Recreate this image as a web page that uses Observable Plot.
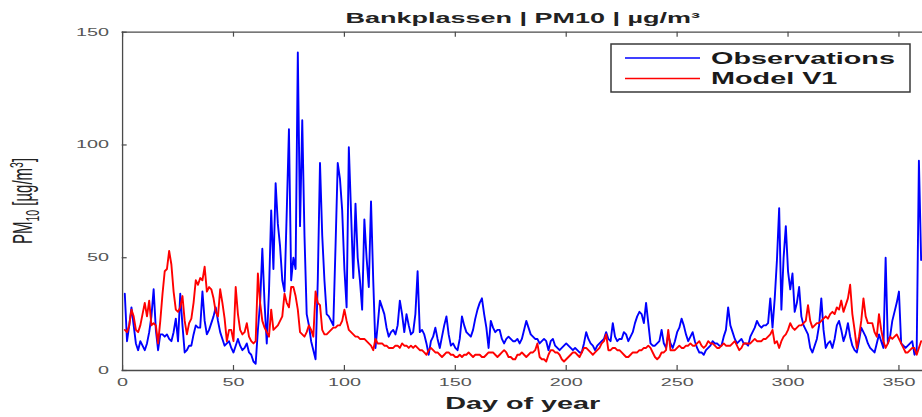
<!DOCTYPE html>
<html>
<head>
<meta charset="utf-8">
<script src="https://cdn.jsdelivr.net/npm/d3@7"></script>
<script src="https://cdn.jsdelivr.net/npm/@observablehq/plot@0.6"></script>
<style>
  html, body { margin: 0; padding: 0; background: #fff; overflow: hidden; }
  #chart svg { display: block; }
</style>
</head>
<body>
<div id="chart"></div>
<script>
// Daily PM10 at Bankplassen: measured vs. model run V1
const title = "Bankplassen | PM10 | µg/m³";
const xLabel = "Day of year";
const seriesNames = ["Observations", "Model V1"];
const seriesColors = ["#0000ff", "#ff0000"];
const xTicks = [0, 50, 100, 150, 200, 250, 300, 350];
const yTicks = [0, 50, 100, 150];
const firstDay = 1;

const observations = [
  34,13,20,28,20,12,9,13,11,9,
  12,17,24,36,18,9,16,16,15,16,
  14,13,17,23,13,34,20,8,9,11,
  11,16,20,19,19,35,22,16,18,21,
  24,28,22,17,14,11,12,13,10,8,
  11,14,11,9,10,12,8,7,4,3,
  18,30,54,30,12,35,71,45,83,65,
  55,40,35,70,107,40,50,45,141,64,
  111,60,25,20,13,9,5,40,92,60,
  40,25,24,22,20,55,92,85,71,45,
  28,99,70,41,74,50,40,27,67,50,
  37,75,40,10,20,31,28,25,19,15,
  17,18,16,20,31,25,17,25,20,16,
  17,25,44,17,18,16,12,7,13,15,
  19,14,10,15,20,24,16,11,12,10,
  9,14,24,20,17,16,15,18,23,27,
  30,32,25,19,10,22,19,17,18,18,
  14,12,14,15,14,13,13,14,12,14,
  18,22,19,16,15,14,14,12,13,14,
  13,9,13,14,11,10,9,10,11,12,
  11,10,9,10,9,8,8,12,17,14,
  12,11,9,11,12,13,14,17,14,13,
  21,15,13,14,14,17,16,13,15,17,
  21,24,26,25,21,30,21,12,11,11,
  12,13,18,12,10,16,12,10,13,17,
  19,23,20,16,13,15,17,13,10,8,
  8,7,9,10,11,13,12,12,11,11,
  15,18,28,20,17,14,12,13,14,12,
  12,11,15,17,19,22,20,19,20,20,
  21,32,19,32,49,72,27,50,64,44,
  36,43,26,30,37,24,20,18,16,10,
  8,11,14,20,32,18,10,12,13,10,
  14,20,22,18,13,16,21,15,11,9,
  8,13,19,17,15,12,10,9,8,12,
  16,13,10,50,12,15,22,26,30,35,
  12,11,10,11,12,13,7,9,93,49
];

const modelV1 = [
  18,17,20,27,24,18,17,20,25,30,
  24,31,20,21,20,12,22,34,44,45,
  53,47,35,27,26,28,33,22,16,21,
  23,30,40,38,41,40,46,35,37,36,
  32,26,24,36,30,23,13,18,18,13,
  37,25,18,16,17,21,15,13,12,13,
  43,30,22,19,17,15,27,18,19,20,
  22,24,34,30,28,37,37,33,27,17,
  16,15,17,20,18,15,35,30,29,18,
  16,16,17,18,19,19,20,20,22,27,
  22,18,17,16,15,15,14,14,14,13,
  12,11,9,14,12,12,12,11,11,10,
  10,10,11,11,10,12,11,11,10,11,
  10,11,10,9,9,8,7,9,10,9,
  8,8,7,6,7,8,8,7,7,6,
  6,7,6,7,7,8,7,6,7,7,
  7,6,6,7,8,8,8,7,6,7,
  8,9,8,6,6,5,5,7,7,8,
  7,6,7,8,8,9,12,6,5,5,
  4,7,9,9,8,8,7,5,4,5,
  6,7,8,8,7,6,8,10,10,9,
  8,7,8,9,10,12,13,16,9,9,
  10,10,9,9,8,7,6,6,7,8,
  8,8,9,9,10,10,11,10,8,6,
  5,6,8,8,9,18,9,9,9,10,
  11,10,10,11,11,12,11,11,12,13,
  11,10,11,13,12,12,11,10,10,11,
  12,11,11,11,12,13,11,9,10,12,
  12,12,12,13,14,13,13,13,14,14,
  15,16,18,12,13,10,13,15,16,18,
  21,19,18,19,20,20,21,22,29,22,
  19,20,21,21,22,23,24,23,25,26,
  25,28,27,31,26,29,32,38,25,18,
  10,15,22,32,24,21,21,21,17,15,
  25,18,13,10,12,15,14,15,16,14,
  12,10,8,8,9,10,10,7,10,13
];

// long table for the line mark
const rows = [observations, modelV1].flatMap((values, k) =>
  values.map((value, i) => ({day: firstDay + i, value, series: seriesNames[k]}))
);

// The figure is laid out at a narrower width and then stretched
// horizontally to fill the page (wide, flattened look).
const W = 922, H = 417;
const stretch = 1.8;
const w0 = W / stretch;
const font = "'Liberation Sans', Arial, Helvetica, sans-serif";
const axisColor = "#4a4a4a";
const lineWidth = 1.9;

const chart = Plot.plot({
  width: w0,
  height: H,
  marginLeft: 67.6,
  marginRight: 0,
  marginTop: 31.7,
  marginBottom: 47,
  style: {fontFamily: font, background: "#fff", overflow: "visible"},
  x: {domain: [0, 360.8]},
  y: {domain: [0, 150]},
  color: {domain: seriesNames, range: seriesColors},
  marks: [
    Plot.line(rows, {x: "day", y: "value", z: "series", stroke: "series", strokeWidth: lineWidth}),
    // box (the right edge falls outside the page)
    Plot.ruleY([0, 150], {stroke: axisColor, strokeWidth: 1.3}),
    Plot.ruleX([0], {stroke: axisColor, strokeWidth: 1.3}),
    // inward tick marks, bottom/top and left
    Plot.ruleX(xTicks, {y1: 0, y2: 2.2, stroke: axisColor, strokeWidth: 1.2}),
    Plot.ruleX(xTicks, {y1: 150, y2: 147.8, stroke: axisColor, strokeWidth: 1.2}),
    Plot.ruleY(yTicks, {x1: 0, x2: 2.25, stroke: axisColor, strokeWidth: 1.2}),
    Plot.axisX(xTicks, {tickSize: 0, tickPadding: 8, fontSize: 11, fill: "#555", label: null}),
    Plot.axisY(yTicks, {tickSize: 0, tickPadding: 7.6, fontSize: 11, fill: "#555", label: null}),
    Plot.text([title], {frameAnchor: "top", dy: -20, fontSize: 15, fontWeight: "bold", fill: "#222"}),
    Plot.text([xLabel], {frameAnchor: "bottom", dy: 38, fontSize: 16, fontWeight: "bold", fill: "#222"})
  ]
});

// stretch the drawing to the page width
chart.setAttribute("width", W);
chart.setAttribute("height", H);
chart.setAttribute("preserveAspectRatio", "none");
chart.style.width = W + "px";
chart.style.height = H + "px";
chart.style.maxWidth = "none";

const svg = d3.select(chart);
// keep stroke widths even in every direction despite the stretch
svg.selectAll('g[aria-label="line"] path, g[aria-label="rule"] line')
  .attr("vector-effect", "non-scaling-stroke");

// y-axis title with subscript and superscript
const yTitle = svg.append("text")
  .attr("transform", `translate(${17.5},201) rotate(-90)`)
  .attr("text-anchor", "middle")
  .attr("font-family", font)
  .attr("font-size", 15)
  .attr("fill", "#222");
yTitle.append("tspan").text("PM");
yTitle.append("tspan").attr("font-size", 10.5).attr("dy", 4).text("10");
yTitle.append("tspan").attr("dy", -4).text(" [µg/m");
yTitle.append("tspan").attr("font-size", 10.5).attr("dy", -5).text("3");
yTitle.append("tspan").attr("dy", 5).text("]");

// legend box, top right
const legend = svg.append("g").attr("font-family", font).attr("text-anchor", "start");
legend.append("rect")
  .attr("x", 611 / stretch).attr("y", 44)
  .attr("width", (910 - 611) / stretch).attr("height", 48)
  .attr("fill", "#fff").attr("stroke", "#3a3a3a").attr("stroke-width", 1.5)
  .attr("vector-effect", "non-scaling-stroke");
seriesNames.forEach((name, i) => {
  const y = 58 + 20.5 * i;
  legend.append("line")
    .attr("x1", 625 / stretch).attr("x2", 700 / stretch)
    .attr("y1", y).attr("y2", y)
    .attr("stroke", seriesColors[i]).attr("stroke-width", 1.6)
    .attr("vector-effect", "non-scaling-stroke");
  legend.append("text")
    .attr("x", 711 / stretch).attr("y", y)
    .attr("dy", "0.36em")
    .attr("text-anchor", "start")
    .attr("font-size", 16).attr("font-weight", "bold").attr("fill", "#1a1a1a")
    .text(name);
});

document.getElementById("chart").appendChild(chart);
</script>
</body>
</html>
